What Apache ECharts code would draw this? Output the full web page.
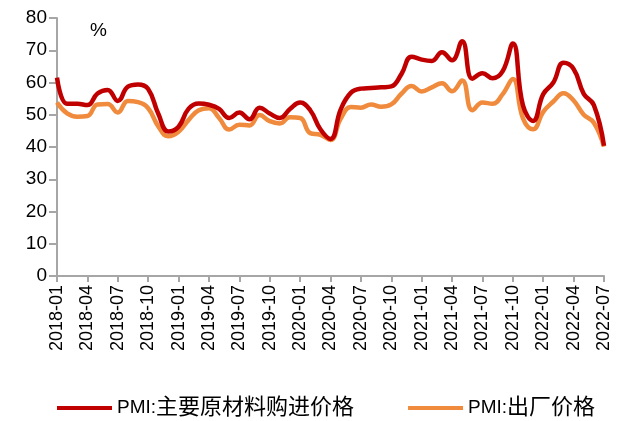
<!DOCTYPE html>
<html>
<head>
<meta charset="utf-8">
<script src="https://cdn.jsdelivr.net/npm/echarts@6/dist/echarts.min.js"></script>
<style>
  html, body { margin: 0; padding: 0; background: #fff; }
  #main { width: 617px; height: 421px; }
</style>
</head>
<body>
<div id="main"></div>
<script>
// 月份 2018-01 ~ 2022-07
var months = [];
for (var y = 2018; y <= 2022; y++) {
    for (var m = 1; m <= 12; m++) {
        if (y === 2022 && m > 7) break;
        months.push(y + '-' + (m < 10 ? '0' + m : m));
    }
}

var seriesNames = ['PMI:主要原材料购进价格', 'PMI:出厂价格'];

// PMI:主要原材料购进价格
var purchasePrice = [
    61.5, 53.4, 53.4, 53.0, 56.6, 57.7, 54.3, 58.7, 59.4, 58.0, 50.3, 44.8,
    46.3, 51.9, 53.5, 53.1, 51.8, 49.0, 50.7, 48.6, 52.2, 50.4, 49.0, 51.8,
    53.8, 51.4, 45.5, 42.5, 51.6, 56.8, 58.1, 58.3, 58.5, 58.8, 62.6, 68.0,
    67.1, 66.7, 69.4, 66.9, 72.8, 61.2, 62.9, 61.3, 63.5, 72.1, 52.9, 48.1,
    56.4, 60.0, 66.1, 64.2, 56.5, 53.0, 40.4
];

// PMI:出厂价格
var factoryPrice = [
    53.8, 50.4, 49.4, 49.6, 53.2, 53.3, 50.7, 54.3, 53.9, 52.0, 46.4, 43.3,
    44.7, 48.4, 51.4, 52.0, 49.0, 45.4, 46.9, 46.7, 49.9, 48.0, 47.3, 49.2,
    49.0, 44.3, 43.8, 42.2, 48.7, 52.4, 52.2, 53.2, 52.5, 53.2, 56.5, 58.9,
    57.2, 58.5, 59.8, 57.3, 60.6, 51.4, 53.8, 53.4, 56.4, 61.1, 48.9, 45.5,
    50.9, 54.1, 56.7, 54.4, 50.0, 47.5, 40.1
];

var axisGray = '#a6a6a6';
var fontFam = '"Liberation Sans", Arial, "Noto Sans CJK SC", sans-serif';

var option = {
    backgroundColor: '#ffffff',
    animation: false,
    textStyle: { fontFamily: fontFam },
    graphic: [{
        type: 'text',
        left: 90,
        top: 21,
        style: { text: '%', font: '19px ' + fontFam, fill: '#000' }
    }],
    legend: {
        top: 392,
        left: 52,
        itemGap: 54,
        itemWidth: 55,
        itemHeight: 4,
        icon: 'rect',
        formatter: function (name) {
            return '{a|PMI:}{b|' + name.replace('PMI:', '') + '}';
        },
        textStyle: {
            color: '#000',
            fontFamily: fontFam,
            rich: {
                a: { fontSize: 19, color: '#000', fontFamily: fontFam },
                b: { fontSize: 22, color: '#000', fontFamily: fontFam }
            }
        },
        data: seriesNames
    },
    grid: {
        left: 57,
        right: 13,
        top: 18,
        bottom: 145
    },
    xAxis: {
        type: 'category',
        boundaryGap: false,
        data: months,
        axisLine: { lineStyle: { color: axisGray, width: 2 } },
        axisTick: { interval: 2, length: 6, lineStyle: { color: axisGray, width: 2 } },
        axisLabel: {
            interval: 2,
            rotate: 90,
            margin: 9,
            fontSize: 18,
            color: '#000',
            fontFamily: fontFam
        }
    },
    yAxis: {
        type: 'value',
        min: 0,
        max: 80,
        interval: 10,
        axisLine: { show: true, lineStyle: { color: axisGray, width: 2 } },
        axisTick: { show: true, length: 8, lineStyle: { color: axisGray, width: 2 } },
        splitLine: { show: false },
        axisLabel: { fontSize: 19, color: '#000', margin: 10, fontFamily: fontFam }
    },
    series: [{
        name: seriesNames[0],
        type: 'line',
        data: purchasePrice,
        smooth: 0.45,
        showSymbol: false,
        color: '#C00000',
        lineStyle: { width: 4.5, color: '#C00000' },
        z: 3
    }, {
        name: seriesNames[1],
        type: 'line',
        data: factoryPrice,
        smooth: 0.45,
        showSymbol: false,
        color: '#F08A3C',
        lineStyle: { width: 4.5, color: '#F08A3C' },
        z: 2
    }]
};

var myChart = echarts.init(document.getElementById('main'));
myChart.setOption(option);
</script>
</body>
</html>
